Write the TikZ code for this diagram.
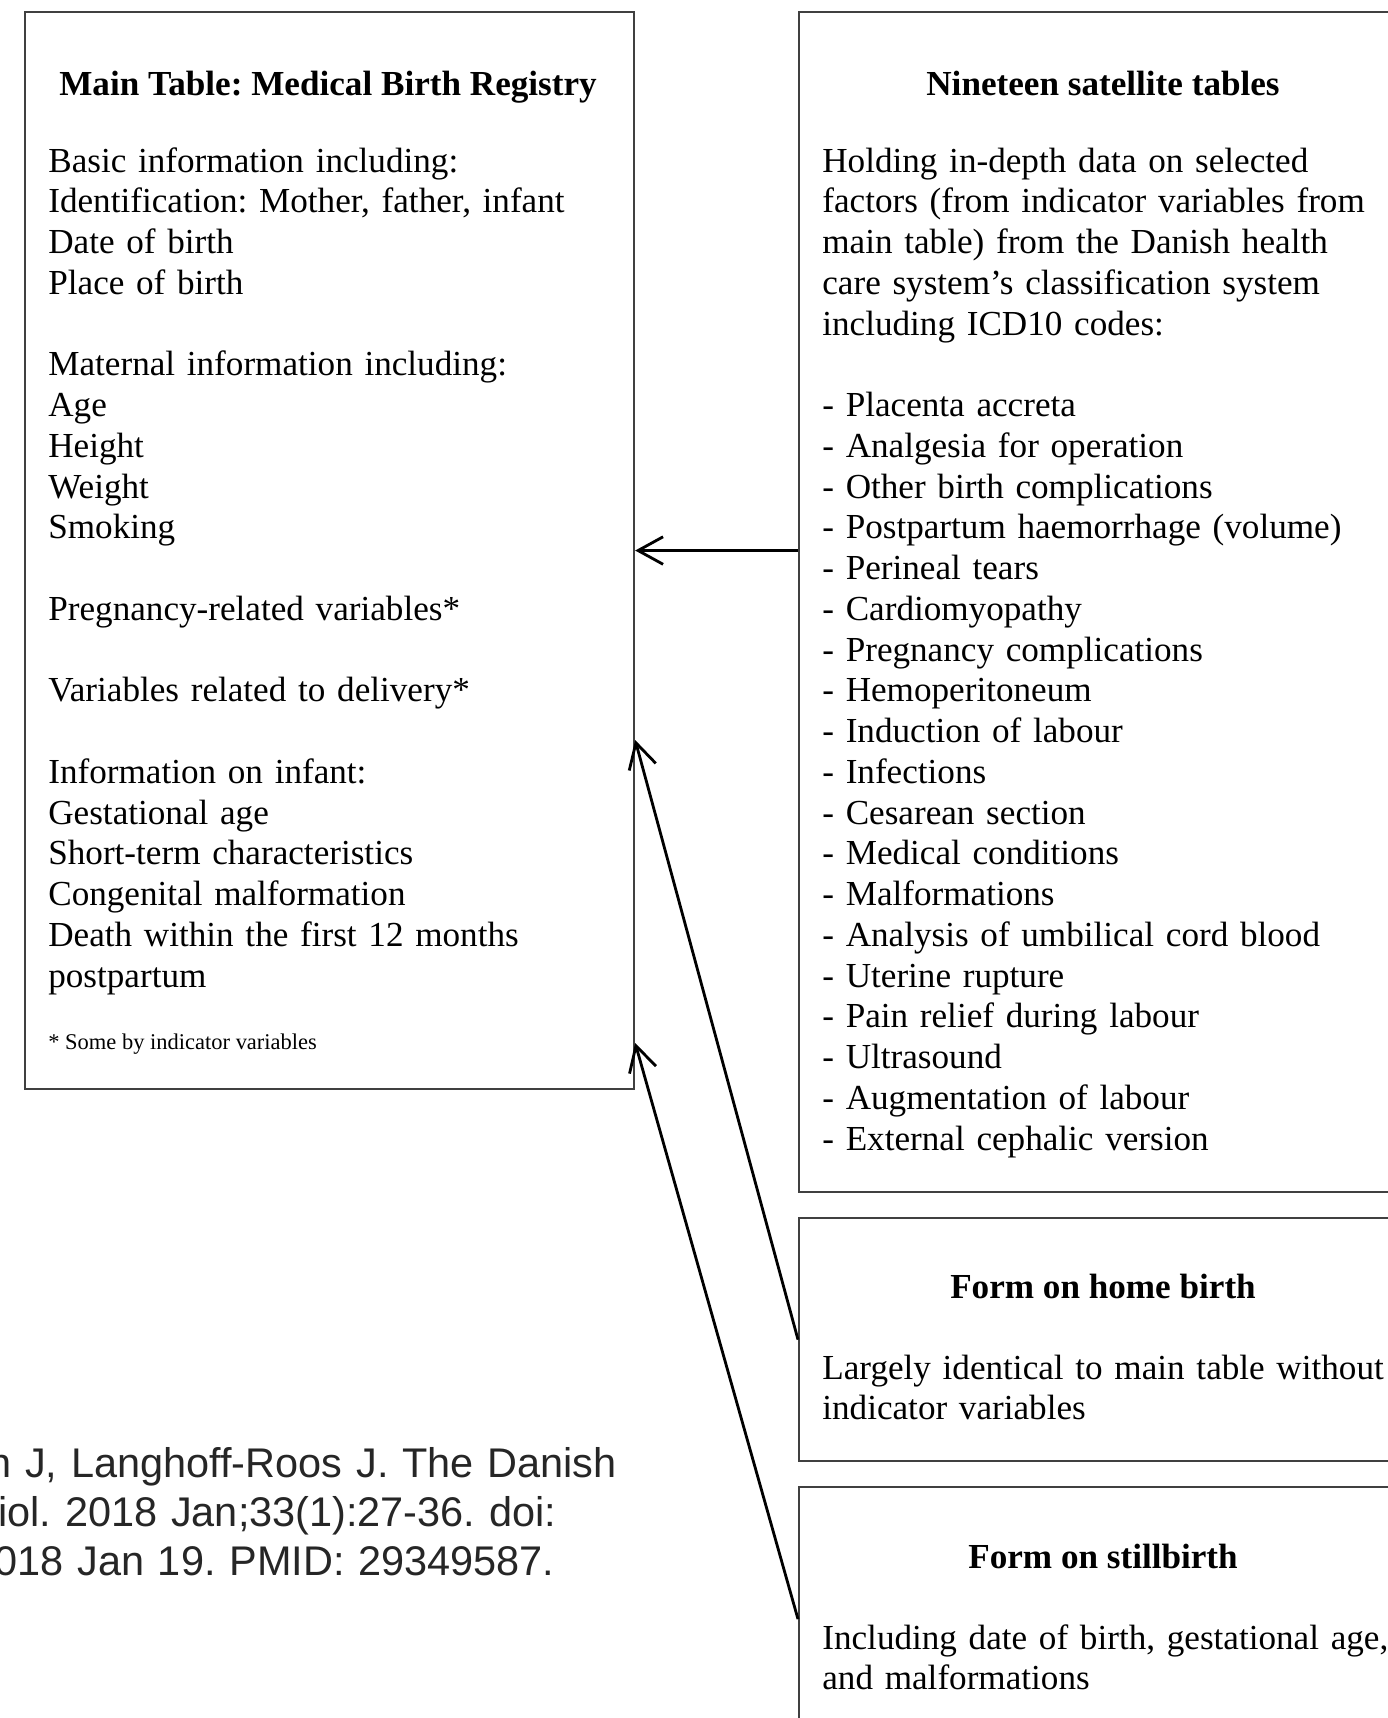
\documentclass[tikz,border=0pt]{standalone}
\usepackage{fontspec}
\setmainfont{Liberation Serif}
\newfontfamily\citefont{Liberation Sans}
\usetikzlibrary{arrows.meta,positioning}
\frenchspacing

\begin{document}
\begin{tikzpicture}[x=0.02cm, y=-0.02cm, ->, >={Straight Barb[length=0.5cm,width=0.55cm]},
  table box/.style={rectangle, draw=black!75, line width=1.3pt, anchor=north west, inner sep=0pt},
  box title/.style={anchor=base, inner sep=0pt, font=\fontsize{20}{23.2}\selectfont\bfseries},
  box text/.style={anchor=base west, align=left, inner sep=0pt, text width=11.6cm, font=\fontsize{20}{23.2}\selectfont}]
  \useasboundingbox (0,0) rectangle (1388,1718);

  % the four tables
  \node[table box, minimum width=12.18cm, minimum height=21.54cm] (main) at (24,11) {};
  \node[table box, minimum width=12.2cm, minimum height=23.6cm] (sat) at (798,11) {};
  \node[table box, minimum width=12.2cm, minimum height=4.86cm] (home) at (798,1217) {};
  \node[table box, minimum width=12.2cm, minimum height=5.28cm] (still) at (798,1486) {};

  % main table
  \node[box title] (maintitle) at (328,95) {Main Table: Medical Birth Registry};
  \node[box text] (maintext) at (48,172) {Basic information including:\\
    Identification: Mother, father, infant\\
    Date of birth\\
    Place of birth\\[23.2pt]
    Maternal information including:\\
    Age\\
    Height\\
    Weight\\
    Smoking\\[23.2pt]
    Pregnancy-related variables*\\[23.2pt]
    Variables related to delivery*\\[23.2pt]
    Information on infant:\\
    Gestational age\\
    Short-term characteristics\\
    Congenital malformation\\
    Death within the first 12 months\\
    postpartum};
  \node[anchor=base west, inner sep=0pt, font=\fontsize{12.8}{15}\selectfont] (mainnote) at (48,1049) {* Some by indicator variables};

  % satellite tables
  \node[box title] (sattitle) at (1103,95) {Nineteen satellite tables};
  \node[box text] (sattext) at (822,172) {Holding in-depth data on selected\\
    factors (from indicator variables from\\
    main table) from the Danish health\\
    care system's classification system\\
    including ICD10 codes:\\[23.2pt]
    - Placenta accreta\\
    - Analgesia for operation\\
    - Other birth complications\\
    - Postpartum haemorrhage (volume)\\
    - Perineal tears\\
    - Cardiomyopathy\\
    - Pregnancy complications\\
    - Hemoperitoneum\\
    - Induction of labour\\
    - Infections\\
    - Cesarean section\\
    - Medical conditions\\
    - Malformations\\
    - Analysis of umbilical cord blood\\
    - Uterine rupture\\
    - Pain relief during labour\\
    - Ultrasound\\
    - Augmentation of labour\\
    - External cephalic version};

  % forms
  \node[box title] (hometitle) at (1103,1298) {Form on home birth};
  \node[box text] (hometext) at (822,1379) {Largely identical to main table without\\
    indicator variables};
  \node[box title] (stilltitle) at (1103,1568) {Form on stillbirth};
  \node[box text] (stilltext) at (822,1649) {Including date of birth, gestational age,\\
    and malformations};

  % reference (cut at the left)
  \node[anchor=base west, align=left, inner sep=0pt, text width=14cm, text=black!85,
        font=\citefont\fontsize{23.6}{28}\selectfont] (cite) at (-2,1477)
    {\hspace*{-0.2cm}n J, Langhoff-Roos J. The Danish\\
     iol. 2018 Jan;33(1):27-36. doi:\\
     \hspace*{-0.08cm}018 Jan 19. PMID: 29349587.};

  \path[line width=1.6pt]
    (sat.west |- main.east) edge (main.east)
    (home.west) edge (main.east |- 0,740)
    (still.west) edge (main.east |- 0,1043);
\end{tikzpicture}
\end{document}
